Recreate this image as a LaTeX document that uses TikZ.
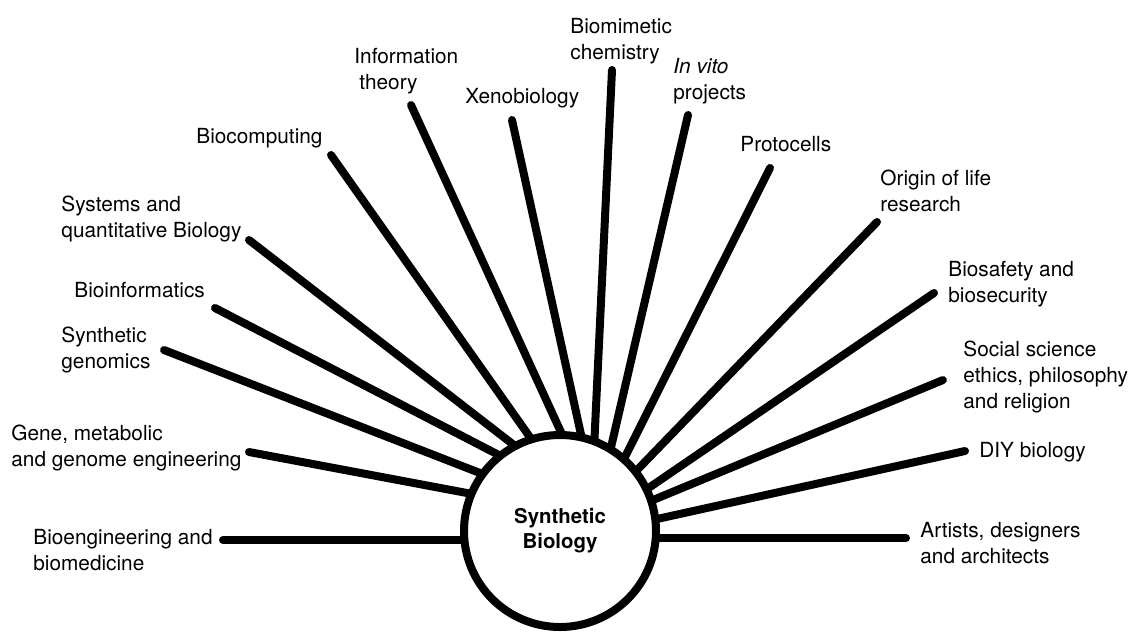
\documentclass[tikz,border=0pt]{standalone}
\usepackage{fontspec}
\setmainfont{TeX Gyre Heros}
\usetikzlibrary{calc}
\begin{document}
\begin{tikzpicture}[x=0.5pt,y=-0.5pt,
  lbl/.style={anchor=base west, inner sep=0pt, align=left, font=\fontsize{10.4pt}{13pt}\selectfont},
  spoke/.style={line width=4pt, line cap=round},
  hub/.style={circle, draw, line width=4pt, fill=white, minimum size=96pt, inner sep=0pt, align=center, font=\fontsize{10.2pt}{12.5pt}\selectfont\bfseries}]
\useasboundingbox (0,0) rectangle (1130,634);

% labels (anchor = baseline of the last line)
\node[lbl] (l-bioeng)   at (33,570)  {Bioengineering and\\biomedicine};
\node[lbl] (l-gene)     at (11,466)  {Gene, metabolic\\and genome engineering};
\node[lbl] (l-synthgen) at (61,368)  {Synthetic\\genomics};
\node[lbl] (l-bioinf)   at (74,297)  {Bioinformatics};
\node[lbl] (l-systems)  at (61,237)  {Systems and\\quantitative Biology};
\node[lbl] (l-biocomp)  at (196,143) {Biocomputing};
\node[lbl] (l-info)     at (354,89)  {Information\\\hspace*{2.5pt}theory};
\node[lbl] (l-xeno)     at (465,103) {Xenobiology};
\node[lbl] (l-biomim)   at (570,59)  {Biomimetic\\chemistry};
\node[lbl] (l-invito)   at (673,99)  {\textit{In vito}\\projects};
\node[lbl] (l-proto)    at (740,151) {Protocells};
\node[lbl] (l-origin)   at (880,211) {Origin of life\\research};
\node[lbl] (l-biosafe)  at (948,302) {Biosafety and\\biosecurity};
\node[lbl] (l-social)   at (963,408) {Social science\\ethics, philosophy\\and religion};
\node[lbl] (l-diy)      at (979,457) {DIY biology};
\node[lbl] (l-artists)  at (920,563) {Artists, designers\\and architects};

% spoke ends
\coordinate (o1) at (223,540);  \coordinate (i1) at (461,540);
\coordinate (o2) at (249,452);  \coordinate (i2) at (467,493);
\coordinate (o3) at (164,350);  \coordinate (i3) at (480,473);
\coordinate (o4) at (215,308);  \coordinate (i4) at (493,452);
\coordinate (o5) at (249,240);  \coordinate (i5) at (510,442);
\coordinate (o6) at (331,155);  \coordinate (i6) at (527,433);
\coordinate (o7) at (411,105);  \coordinate (i7) at (560,430);
\coordinate (o8) at (512,120);  \coordinate (i8) at (580,430);
\coordinate (o9) at (612,70);   \coordinate (i9) at (595,428);
\coordinate (o10) at (688,115); \coordinate (i10) at (612,443);
\coordinate (o11) at (770,168); \coordinate (i11) at (627,453);
\coordinate (o12) at (877,222); \coordinate (i12) at (640,467);
\coordinate (o13) at (934,293); \coordinate (i13) at (650,487);
\coordinate (o14) at (943,380); \coordinate (i14) at (653,500);
\coordinate (o15) at (965,451); \coordinate (i15) at (657,519);
\coordinate (o16) at (906,538); \coordinate (i16) at (658,538);

\foreach \k in {1,...,16}{
  \draw[spoke] (o\k) -- ($(i\k)!-6pt!(o\k)$);
}

\node[hub] (hub) at (560,531) {Synthetic\\Biology};
\end{tikzpicture}
\end{document}
